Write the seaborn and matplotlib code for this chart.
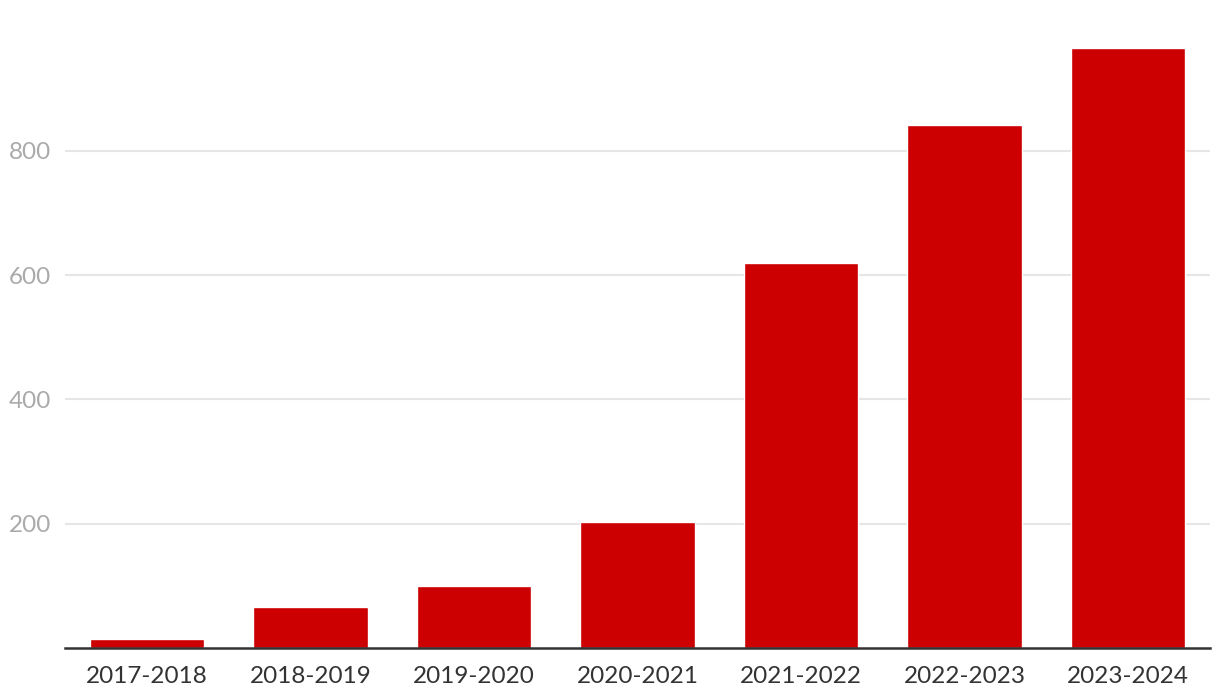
import matplotlib
matplotlib.use("Agg")
import matplotlib.pyplot as plt
import seaborn as sns
import pandas as pd

# school years and counts
years = ['2017-2018', '2018-2019', '2019-2020', '2020-2021',
         '2021-2022', '2022-2023', '2023-2024']
counts = [15, 66, 100, 202, 620, 841, 966]
y_ticks = [200, 400, 600, 800]

df = pd.DataFrame({'Year': years, 'Count': counts})

sns.set_style('white')
plt.rcParams['font.family'] = ['Lato', 'DejaVu Sans']

fig = plt.figure(figsize=(12.2, 7), dpi=100)
ax = fig.add_axes([65 / 1220, 52 / 700, 1145 / 1220, 621.5 / 700])

sns.barplot(data=df, x='Year', y='Count', color='#cc0000', width=0.7,
            saturation=1, ax=ax)

ax.set_xlim(-0.5, len(years) - 0.5)
ax.set_ylim(0, 1000)
ax.set_yticks(y_ticks)
ax.set_xlabel('')
ax.set_ylabel('')

ax.grid(axis='y', color='#e6e6e6', linewidth=1.5)
ax.set_axisbelow(True)
for side in ['top', 'right', 'left']:
    ax.spines[side].set_visible(False)
ax.spines['bottom'].set_color('#333333')
ax.spines['bottom'].set_linewidth(1.8)
ax.spines['bottom'].set_zorder(5)

ax.tick_params(axis='y', length=0, pad=10, labelsize=17.5, labelcolor='#aaaaaa')
ax.tick_params(axis='x', length=0, pad=13, labelsize=17.5, labelcolor='#333333')

fig.savefig('out.png', dpi=100)
